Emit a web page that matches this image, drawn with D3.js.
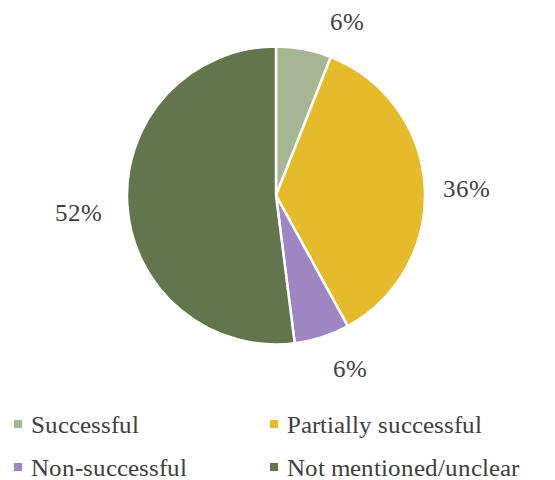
<!DOCTYPE html>
<html>
<head>
<meta charset="utf-8">
<script src="https://cdn.jsdelivr.net/npm/d3@7"></script>
<style>
  @font-face {
    font-family: 'ChartSerif';
    src: local('Liberation Serif'), local('LiberationSerif'), local('Tinos'), local('Times New Roman');
  }
</style>
</head>
<body style="margin:0">
<div id="chart"></div>
<script>
const categories = ['Successful', 'Partially successful', 'Non-successful', 'Not mentioned/unclear']
const values = [6, 36, 6, 52]
const colors = ['#a6b593', '#e6bb2b', '#9e86c2', '#63754c']

// label nudges (px), Excel pushes outside-end labels around a bit
const labelNudge = [[36, 7], [6, 4], [17, -3], [-13, 5]]

const serif = "ChartSerif, 'Liberation Serif', Tinos, serif"
const width = 555, height = 480
const cx = 276, cy = 195.5, radius = 149

const svg = d3.select('#chart')
  .append('svg')
    .attr('width', width)
    .attr('height', height)

const color = d3.scaleOrdinal().domain(categories).range(colors)

const pie = d3.pie().sort(null).value(d => d.value)
const data = categories.map((c, i) => ({ name: c, value: values[i] }))
const arcs = pie(data)

const arc = d3.arc().innerRadius(0).outerRadius(radius)
const labelArc = d3.arc().innerRadius(185).outerRadius(185)

svg.append('g')
  .attr('transform', `translate(${cx}, ${cy})`)
  .selectAll('path')
  .data(arcs)
  .enter()
  .append('path')
    .attr('d', arc)
    .attr('fill', d => color(d.data.name))
    .attr('stroke', '#fff')
    .attr('stroke-width', 2.5)
    .attr('stroke-linejoin', 'round')

// percent labels
svg.selectAll('text.lbl')
  .data(arcs)
  .enter()
  .append('text')
    .attr('class', 'lbl')
    .attr('x', (d, i) => cx + labelArc.centroid(d)[0] + labelNudge[i][0])
    .attr('y', (d, i) => cy + labelArc.centroid(d)[1] + labelNudge[i][1] + 9)
    .attr('text-anchor', 'middle')
    .attr('font-family', serif)
    .style('font-family', serif)
    .attr('font-size', 25)
    .attr('fill', '#404040')
    .text(d => d.data.value + '%')

// legend, 2 columns
const colX = [14, 270], rowY = [433, 476]

svg.selectAll('rect.key')
  .data(categories)
  .enter()
  .append('rect')
    .attr('class', 'key')
    .attr('x', (d, i) => colX[i % 2])
    .attr('y', (d, i) => rowY[Math.floor(i / 2)] - 13)
    .attr('width', 8)
    .attr('height', 8)
    .attr('fill', d => color(d))

svg.selectAll('text.key')
  .data(categories)
  .enter()
  .append('text')
    .attr('class', 'key')
    .attr('x', (d, i) => colX[i % 2] + 17)
    .attr('y', (d, i) => rowY[Math.floor(i / 2)])
    .attr('font-family', serif)
    .style('font-family', serif)
    .attr('font-size', 25)
    .attr('fill', '#404040')
    .text(d => d)
</script>
</body>
</html>
